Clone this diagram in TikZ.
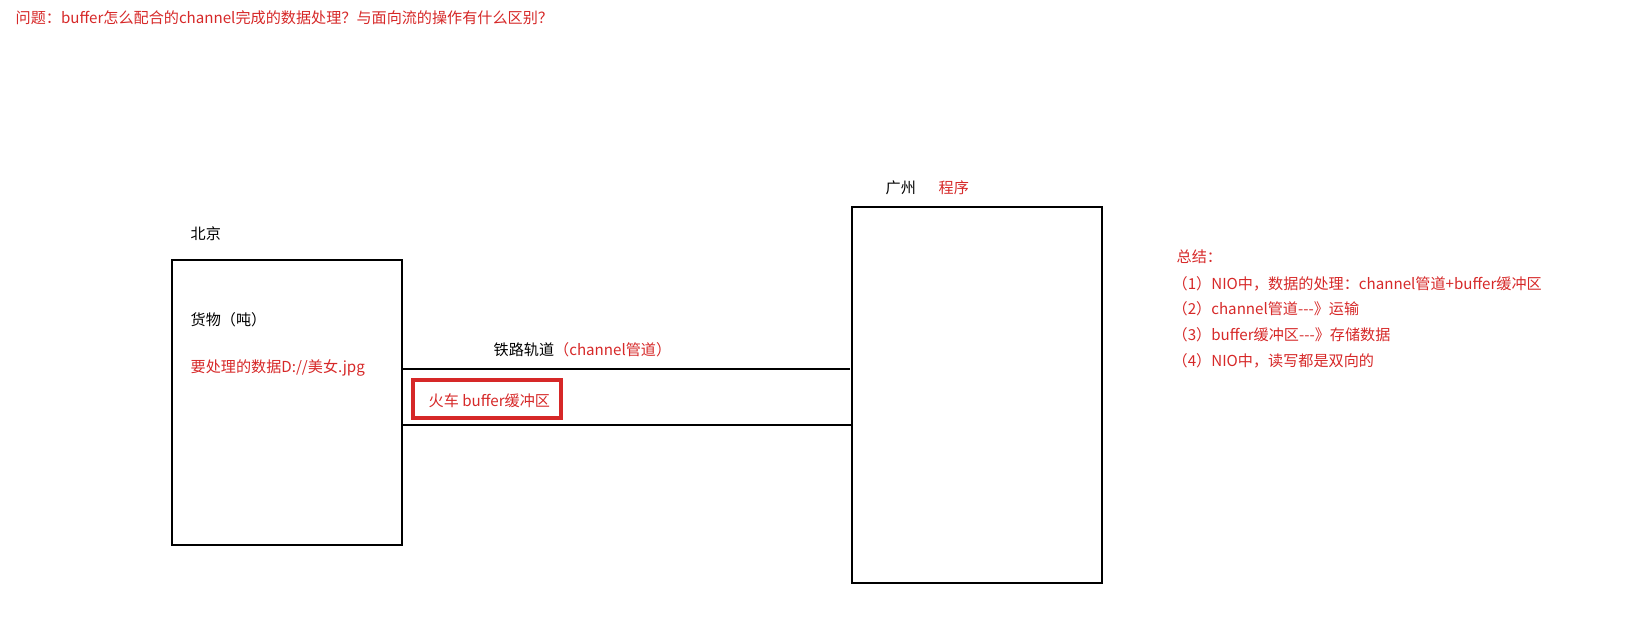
\documentclass[tikz,border=0pt]{standalone}
\usepackage{fontspec}
\setmainfont{Noto Sans CJK SC}
\definecolor{tred}{RGB}{214,40,40}
\begin{document}
\begin{tikzpicture}[x=0.01cm,y=-0.01cm,
  txt/.style={anchor=west,inner sep=0pt,font=\fontsize{4.3}{5}\selectfont},
  rtxt/.style={txt,text=tred},
  box/.style={draw,line width=0.8pt}]
\useasboundingbox (0,0) rectangle (1645,633);
\node[rtxt] (title) at (15,18) {问题：buffer怎么配合的channel完成的数据处理？与面向流的操作有什么区别？};
\draw[box] (172,260) rectangle (402,545);
\coordinate (lt) at (402,369); \coordinate (lb) at (402,425);
\draw[box] (852,207) rectangle (1102,583);
\coordinate (rt) at (850,369); \coordinate (rb) at (852,425);
\node[txt] (bj) at (190,234) {北京};
\node[txt] (hw) at (190,320) {货物（吨）};
\node[rtxt] (sj) at (190,368) {要处理的数据D://美女.jpg};
\draw[line width=0.8pt] (lt) -- (rt);
\draw[line width=0.8pt] (lb) -- (rb);
\node[txt] (tl) at (493,350) {铁路轨道\textcolor{tred}{（channel管道）}};
\node[draw=tred,line width=0.9pt,inner sep=0pt,minimum height=0.38cm,minimum width=1.48cm] (hc) at (487,399) {};
\node[rtxt] (hct) at (428,401) {火车 buffer缓冲区};
\node[txt] (gz) at (885,188) {广州};
\node[rtxt] (cx) at (938,188) {程序};
\node[rtxt] (s0) at (1176,257) {总结：};
\node[rtxt] (s1) at (1172,284) {（1）NIO中，数据的处理：channel管道+buffer缓冲区};
\node[rtxt] (s2) at (1172,309) {（2）channel管道-{}-{}-》运输};
\node[rtxt] (s3) at (1172,335) {（3）buffer缓冲区-{}-{}-》存储数据};
\node[rtxt] (s4) at (1172,361) {（4）NIO中，读写都是双向的};
\end{tikzpicture}
\end{document}
